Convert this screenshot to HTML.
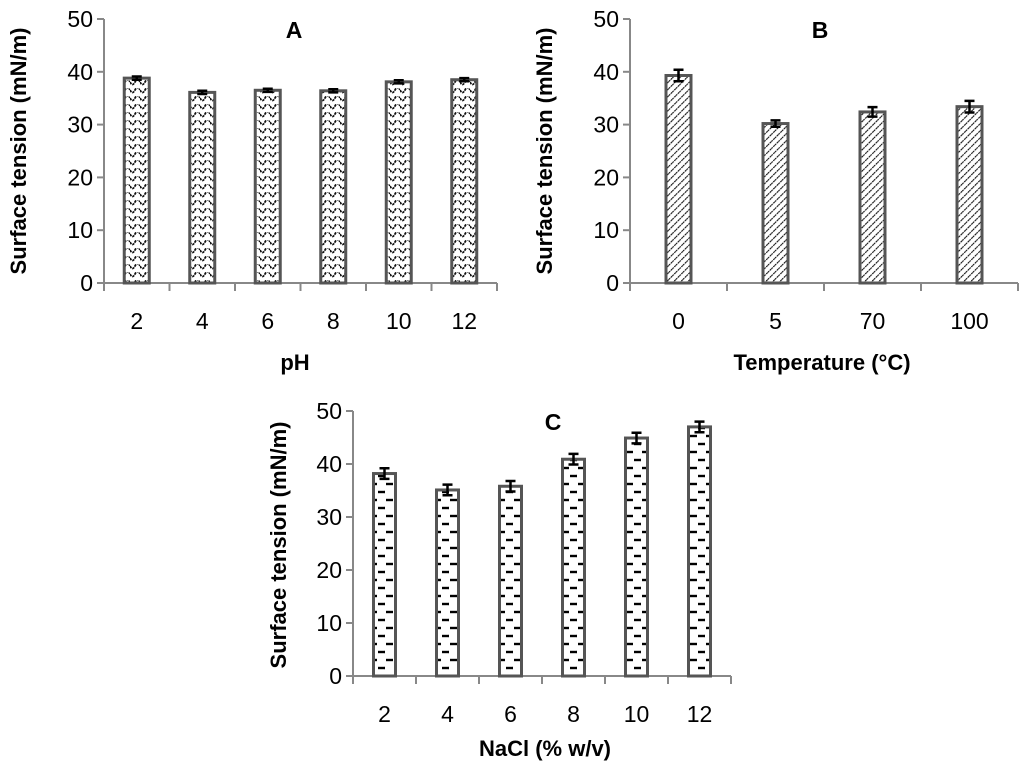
<!DOCTYPE html>
<html><head><meta charset="utf-8"><style>
body{margin:0;background:#fff;}
svg{display:block;font-family:"Liberation Sans",sans-serif;}
.tick{font-size:23px;fill:#000;}
.lab{font-size:22px;font-weight:bold;fill:#000;}
</style></head><body>
<svg id="svg" width="1024" height="767" viewBox="0 0 1024 767">
<defs>
<pattern id="pwave" width="10" height="8" patternUnits="userSpaceOnUse">
<rect width="10" height="8" fill="#fff"/>
<path d="M0,2 Q2.5,7 5,2 T10,2" fill="none" stroke="#111" stroke-width="1.8" stroke-dasharray="2.5,0.8"/>
</pattern>
<pattern id="phatch" width="5" height="5" patternUnits="userSpaceOnUse" patternTransform="rotate(45)">
<rect width="5" height="5" fill="#fff"/>
<line x1="0" y1="0" x2="0" y2="5" stroke="#111" stroke-width="2.2" stroke-dasharray="2,0.7"/>
</pattern>
<pattern id="pdash" width="16" height="16" patternUnits="userSpaceOnUse">
<rect width="16" height="16" fill="#fff"/>
<line x1="2" y1="4" x2="9" y2="4" stroke="#000" stroke-width="2.4"/>
<line x1="10" y1="12" x2="17" y2="12" stroke="#000" stroke-width="2.4"/>
<line x1="-6" y1="12" x2="1" y2="12" stroke="#000" stroke-width="2.4"/>
</pattern>
</defs>
</svg>
<script>
const catsA = ["2","4","6","8","10","12"];
const valsA = [38.8,36.1,36.5,36.4,38.1,38.5];
const errA = [0.3,0.3,0.3,0.3,0.3,0.3];
const catsB = ["0","5","70","100"];
const valsB = [39.3,30.2,32.4,33.4];
const errB = [1.1,0.6,0.9,1.1];
const catsC = ["2","4","6","8","10","12"];
const valsC = [38.2,35.1,35.8,40.9,44.9,47.0];
const errC = [1.0,1.0,1.0,1.0,1.0,1.0];
const yTicks = [0,10,20,30,40,50];

const svg = document.getElementById('svg');
const NS = 'http://www.w3.org/2000/svg';
function mk(tag, attrs, parent){
  const e = document.createElementNS(NS, tag);
  for (const k in attrs) e.setAttribute(k, attrs[k]);
  (parent||svg).appendChild(e);
  return e;
}
function chart(o){
  const g = mk('g', {});
  
  
  const y = v => o.y0 - v * (o.y0 - o.y50) / 50;
  const n = o.cats.length;
  const cw = (o.x1 - o.x0) / n;
  const xc = i => o.x0 + cw * (i + 0.5);
  const ya = mk('line', {x1:o.x0, y1:y(50), x2:o.x0, y2:o.y0, stroke:'#888', 'stroke-width':2}, g);
  
  
  yTicks.forEach(t => {
    mk('line', {x1:o.x0-7, y1:y(t), x2:o.x0, y2:y(t), stroke:'#888', 'stroke-width':2}, g);
    const tx = mk('text', {x:o.x0-11, y:y(t)+8, 'text-anchor':'end', class:'tick'}, g);
    tx.textContent = t;
    
    
  });
  const xa = mk('line', {x1:o.x0, y1:o.y0, x2:o.x1, y2:o.y0, stroke:'#888', 'stroke-width':2}, g);
  
  
  for (let i = 0; i <= n; i++) {
    const xx = o.x0 + cw * i;
    mk('line', {x1:xx, y1:o.y0, x2:xx, y2:o.y0+8, stroke:'#888', 'stroke-width':2}, g);
  }
  o.cats.forEach((c, i) => {
    const v = o.vals[i], e = o.err[i];
    const b = mk('rect', {x:xc(i)-o.bw/2, y:y(v), width:o.bw, height:o.y0-y(v), fill:'url(#'+o.pat+')', stroke:'#555', 'stroke-width':3}, g);
    
    
    const eb = mk('path', {d:`M${xc(i)-5},${y(v+e)}H${xc(i)+5}M${xc(i)},${y(v+e)}V${y(v-e)}M${xc(i)-5},${y(v-e)}H${xc(i)+5}`, stroke:'#000', 'stroke-width':2.5, fill:'none'}, g);
    
    
    const t = mk('text', {x:xc(i), y:o.y0+46, 'text-anchor':'middle', class:'tick'}, g);
    t.textContent = c;
    
    
  });
  const ti = mk('text', {x:o.tx, y:o.ty, 'text-anchor':'middle', class:'lab', style:'font-size:23px'}, g);
  ti.textContent = o.title;
  
  
  const xl = mk('text', {x:o.xlx, y:o.xly, 'text-anchor':'middle', class:'lab'}, g);
  xl.textContent = o.xlabel;
  
  
  const yl = mk('text', {x:0, y:0, 'text-anchor':'middle', class:'lab', transform:`translate(${o.ylx},${o.yly}) rotate(-90)`}, g);
  yl.textContent = 'Surface tension (mN/m)';
  
  
}
chart({name:'chart-a', cats:catsA, vals:valsA, err:errA, x0:104, x1:497, y0:283, y50:19, bw:25, pat:'pwave', title:'A', tx:294, ty:38, xlabel:'pH', xlx:295, xly:370, ylx:26, yly:151});
chart({name:'chart-b', cats:catsB, vals:valsB, err:errB, x0:630, x1:1018, y0:283, y50:19, bw:25, pat:'phatch', title:'B', tx:820, ty:38, xlabel:'Temperature (°C)', xlx:822, xly:370, ylx:552, yly:151});
chart({name:'chart-c', cats:catsC, vals:valsC, err:errC, x0:353, x1:731, y0:676, y50:411, bw:22, pat:'pdash', title:'C', tx:553, ty:430, xlabel:'NaCl (% w/v)', xlx:545, xly:756, ylx:286, yly:545});
</script>
</body></html>
